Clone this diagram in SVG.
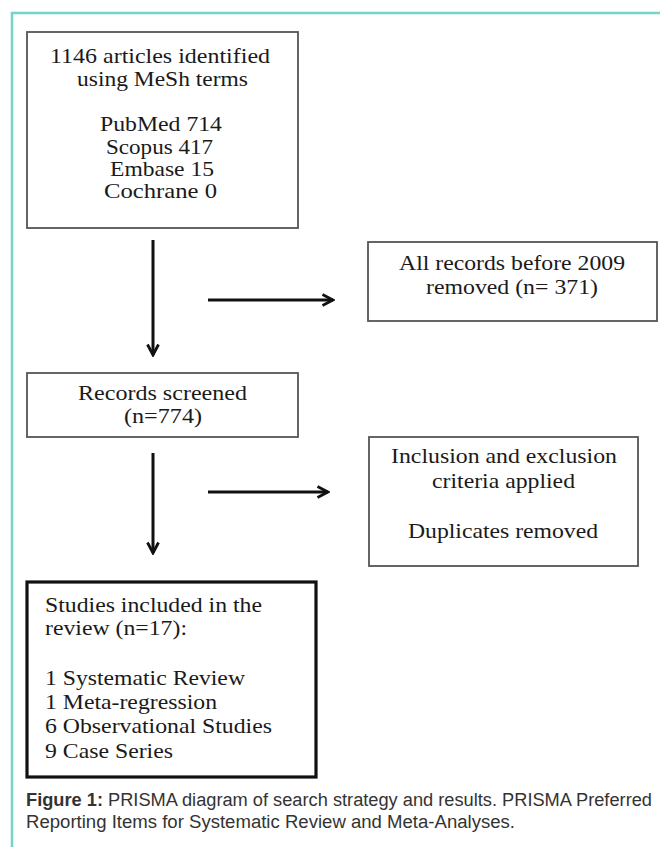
<svg xmlns="http://www.w3.org/2000/svg" width="660" height="847" viewBox="0 0 660 847">
<defs>
<style>
.frame{fill:none;stroke:#72d5c7;stroke-width:2.5}
.box{fill:#fff;stroke:#555;stroke-width:1.8}
.boxb{fill:#fff;stroke:#111;stroke-width:3.2}
.t{font-family:"Liberation Serif","Times New Roman",serif;font-size:21.5px;fill:#1a1a1a}
.arr{fill:none;stroke:#111;stroke-width:3}
.cap{font-family:"Liberation Sans",Arial,sans-serif;font-size:18px;fill:#333}
</style>
<marker id="ah" viewBox="0 0 14 14" refX="12.5" refY="7" markerWidth="14" markerHeight="14" markerUnits="userSpaceOnUse" orient="auto">
<path d="M2,1.5 L12.5,7 L2,12.5" fill="none" stroke="#111" stroke-width="2.8"/>
</marker>
</defs>
<rect width="660" height="847" fill="#fff"/>
<path class="frame" d="M12,847 V13 H660"/>
<g id="n1">
<rect class="box" x="27" y="32" width="271" height="196"/>
<text class="t" x="50" y="63" textLength="220" lengthAdjust="spacingAndGlyphs">1146 articles identified</text>
<text class="t" x="77" y="85.5" textLength="171" lengthAdjust="spacingAndGlyphs">using MeSh terms</text>
<text class="t" x="100" y="131" textLength="122" lengthAdjust="spacingAndGlyphs">PubMed 714</text>
<text class="t" x="106" y="153.5" textLength="107" lengthAdjust="spacingAndGlyphs">Scopus 417</text>
<text class="t" x="110" y="176" textLength="104" lengthAdjust="spacingAndGlyphs">Embase 15</text>
<text class="t" x="104" y="198" textLength="113" lengthAdjust="spacingAndGlyphs">Cochrane 0</text>
</g>
<g id="n2">
<rect class="box" x="368" y="242" width="289" height="79"/>
<text class="t" x="399" y="270" textLength="226" lengthAdjust="spacingAndGlyphs">All records before 2009</text>
<text class="t" x="426" y="294" textLength="172" lengthAdjust="spacingAndGlyphs">removed (n= 371)</text>
</g>
<g id="n3">
<rect class="box" x="27" y="373" width="271" height="64"/>
<text class="t" x="78" y="400" textLength="169" lengthAdjust="spacingAndGlyphs">Records screened</text>
<text class="t" x="124" y="423" textLength="78" lengthAdjust="spacingAndGlyphs">(n=774)</text>
</g>
<g id="n4">
<rect class="box" x="369" y="437" width="269" height="129"/>
<text class="t" x="391" y="463" textLength="226" lengthAdjust="spacingAndGlyphs">Inclusion and exclusion</text>
<text class="t" x="432" y="488" textLength="143" lengthAdjust="spacingAndGlyphs">criteria applied</text>
<text class="t" x="408" y="538" textLength="190" lengthAdjust="spacingAndGlyphs">Duplicates removed</text>
</g>
<g id="n5">
<rect class="boxb" x="27" y="582" width="289" height="195"/>
<text class="t" x="45" y="612" textLength="217" lengthAdjust="spacingAndGlyphs">Studies included in the</text>
<text class="t" x="45" y="635" textLength="142" lengthAdjust="spacingAndGlyphs">review (n=17):</text>
<text class="t" x="45" y="685" textLength="200" lengthAdjust="spacingAndGlyphs">1 Systematic Review</text>
<text class="t" x="45" y="709" textLength="172" lengthAdjust="spacingAndGlyphs">1 Meta-regression</text>
<text class="t" x="45" y="733" textLength="227" lengthAdjust="spacingAndGlyphs">6 Observational Studies</text>
<text class="t" x="45" y="758" textLength="128" lengthAdjust="spacingAndGlyphs">9 Case Series</text>
</g>
<g id="connectors">
<line class="arr" x1="153" y1="240" x2="153" y2="355" marker-end="url(#ah)"/>
<line class="arr" x1="208" y1="300" x2="333" y2="300" marker-end="url(#ah)"/>
<line class="arr" x1="153" y1="453" x2="153" y2="553" marker-end="url(#ah)"/>
<line class="arr" x1="208" y1="492" x2="328" y2="492" marker-end="url(#ah)"/>
</g>
<g id="caption">
<text class="cap" x="26" y="806" textLength="626" lengthAdjust="spacingAndGlyphs"><tspan font-weight="bold">Figure 1:</tspan> PRISMA diagram of search strategy and results. PRISMA Preferred</text>
<text class="cap" x="26" y="828" textLength="489" lengthAdjust="spacingAndGlyphs">Reporting Items for Systematic Review and Meta-Analyses.</text>
</g>
</svg>
